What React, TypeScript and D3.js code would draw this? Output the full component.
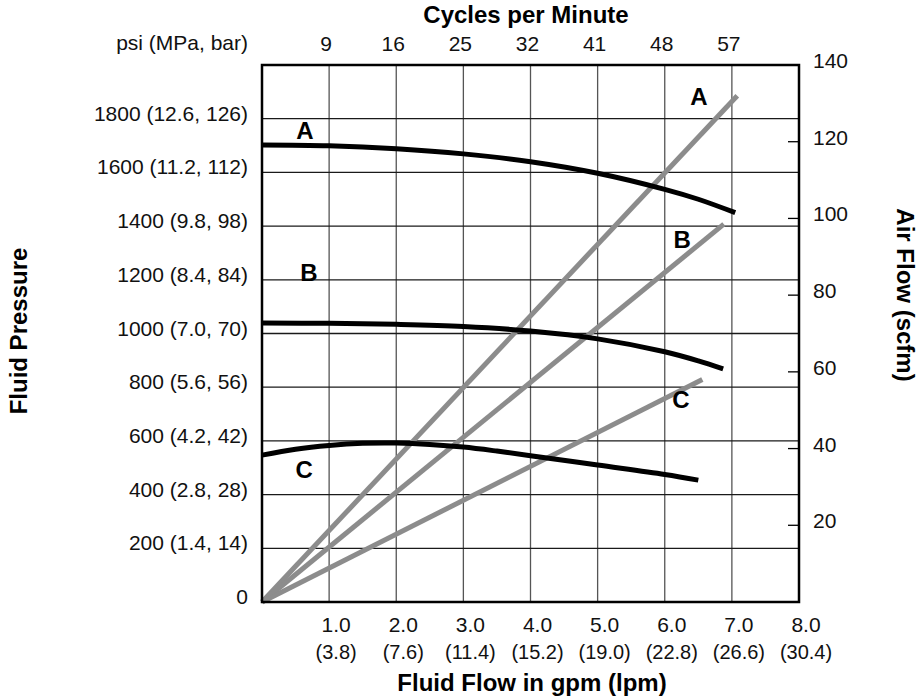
import React from "react";
import * as d3 from "d3";

// ---- data ----
const flowTicks = [1, 2, 3, 4, 5, 6, 7, 8];
const flowLabels = ["1.0", "2.0", "3.0", "4.0", "5.0", "6.0", "7.0", "8.0"];
const lpmLabels = ["(3.8)", "(7.6)", "(11.4)", "(15.2)", "(19.0)", "(22.8)", "(26.6)", "(30.4)"];
const cycleTicks = [1, 2, 3, 4, 5, 6, 7];
const cycleLabels = ["9", "16", "25", "32", "41", "48", "57"];
const pressureTicks = [0, 200, 400, 600, 800, 1000, 1200, 1400, 1600, 1800];
const pressureLabels = [
  "0", "200 (1.4, 14)", "400 (2.8, 28)", "600 (4.2, 42)", "800 (5.6, 56)",
  "1000 (7.0, 70)", "1200 (8.4, 84)", "1400 (9.8, 98)", "1600 (11.2, 112)", "1800 (12.6, 126)",
];
const airTicks = [20, 40, 60, 80, 100, 120, 140];
const airTickLabels = ["20", "40", "60", "80", "100", "120", "140"];

// Fluid pressure curves (psi vs gpm)
const pressureA: [number, number][] = [
  [0, 1702], [1, 1699], [2, 1688], [3, 1669], [4, 1640], [5, 1597], [6, 1537], [6.5, 1500], [7.05, 1450],
];
const pressureB: [number, number][] = [
  [0, 1039], [1, 1038], [2, 1034], [3, 1026], [4, 1009], [5, 980], [6, 932], [6.5, 898], [6.87, 868],
];
const pressureC: [number, number][] = [
  [0, 547], [0.5, 569], [1, 583], [1.5, 591], [2, 592], [2.5, 587], [3, 577], [3.5, 562], [4, 545], [5, 510], [6, 475], [6.5, 454],
];
// Air flow lines (scfm vs gpm)
const airA: [number, number][] = [[0, 0], [7.08, 132]];
const airB: [number, number][] = [[0, 0], [6.88, 98.5]];
const airC: [number, number][] = [[0, 0], [6.56, 58]];

// Curve labels: [gpm, value]
const pressureLabelNames = ["A", "B", "C"];
const pressureLabelPos: [number, number][] = [[0.64, 1724], [0.7, 1195], [0.63, 462]];
const airLabelNames = ["A", "B", "C"];
const airLabelPos: [number, number][] = [[6.51, 129.6], [6.26, 92.3], [6.24, 50.6]];

const FONT = "'Liberation Sans', Arial, Helvetica, sans-serif";

export default function App() {
  const W = 924, H = 700;
  const left = 262, right = 799, top = 65, bottom = 602;
  const x = d3.scaleLinear().domain([0, 8]).range([left, right]);
  const yP = d3.scaleLinear().domain([0, 2000]).range([bottom, top]);
  const yA = d3.scaleLinear().domain([0, 140]).range([bottom, top]);

  const pLine = d3.line<[number, number]>().x((d) => x(d[0])).y((d) => yP(d[1])).curve(d3.curveCatmullRom.alpha(0.5));
  const aLine = d3.line<[number, number]>().x((d) => x(d[0])).y((d) => yA(d[1]));

  return (
    <svg width={W} height={H} style={{ position: "absolute", left: 0, top: 0, background: "#fff" }} fontFamily={FONT}>
      <rect x={0} y={0} width={W} height={H} fill="#fff" />
      {/* vertical gridlines */}
      {flowTicks.slice(0, 7).map((t) => (
        <line key={"vg" + t} x1={x(t)} x2={x(t)} y1={top} y2={bottom} stroke="#555" strokeWidth={1.3} />
      ))}
      {/* horizontal gridlines */}
      {pressureTicks.slice(1).map((t) => (
        <line key={"hg" + t} x1={left} x2={right} y1={yP(t)} y2={yP(t)} stroke="#1a1a1a" strokeWidth={1.3} />
      ))}
      {/* right ticks */}
      {airTicks.slice(0, 6).map((t) => (
        <line key={"rt" + t} x1={right - 11} x2={right} y1={yA(t)} y2={yA(t)} stroke="#000" strokeWidth={1.3} />
      ))}
      {/* air flow lines */}
      {[airA, airB, airC].map((d, i) => (
        <path key={"air" + i} d={aLine(d) || ""} fill="none" stroke="#8c8c8c" strokeWidth={5} />
      ))}
      {/* pressure curves */}
      {[pressureA, pressureB, pressureC].map((d, i) => (
        <path key={"pr" + i} d={pLine(d) || ""} fill="none" stroke="#000" strokeWidth={5} />
      ))}
      {/* border */}
      <rect x={left} y={top} width={right - left} height={bottom - top} fill="none" stroke="#000" strokeWidth={2.5} />

      {/* curve labels */}
      {pressureLabelNames.map((n, i) => (
        <text key={"pl" + i} x={x(pressureLabelPos[i][0])} y={yP(pressureLabelPos[i][1])} textAnchor="middle" fontSize={24} fontWeight="bold">{n}</text>
      ))}
      {airLabelNames.map((n, i) => (
        <text key={"al" + i} x={x(airLabelPos[i][0])} y={yA(airLabelPos[i][1])} textAnchor="middle" fontSize={24} fontWeight="bold">{n}</text>
      ))}

      {/* left axis labels */}
      {pressureTicks.map((t, i) => (
        <text key={"ly" + t} x={248} y={yP(t) + 2} textAnchor="end" fontSize={21} fill="#111">{pressureLabels[i]}</text>
      ))}
      <text x={248} y={50} textAnchor="end" fontSize={21} fill="#111">psi (MPa, bar)</text>

      {/* right axis labels */}
      {airTicks.map((t, i) => (
        <text key={"ry" + t} x={813} y={yA(t) + 3} textAnchor="start" fontSize={21} fill="#111">{airTickLabels[i]}</text>
      ))}

      {/* bottom labels */}
      {flowTicks.map((t, i) => (
        <g key={"bx" + t}>
          <text x={x(t) + 7} y={632} textAnchor="middle" fontSize={21} fill="#111">{flowLabels[i]}</text>
          <text x={x(t) + 7} y={659} textAnchor="middle" fontSize={20} fill="#111">{lpmLabels[i]}</text>
        </g>
      ))}

      {/* top labels */}
      {cycleTicks.map((t, i) => (
        <text key={"tx" + t} x={x(t) - 3} y={51} textAnchor="middle" fontSize={21} fill="#111">{cycleLabels[i]}</text>
      ))}

      {/* titles */}
      <text x={526} y={23} textAnchor="middle" fontSize={24} fontWeight="bold">Cycles per Minute</text>
      <text x={532} y={691} textAnchor="middle" fontSize={24} fontWeight="bold">Fluid Flow in gpm (lpm)</text>
      <text transform="translate(27,331) rotate(-90)" textAnchor="middle" fontSize={24} fontWeight="bold">Fluid Pressure</text>
      <text transform="translate(897,295) rotate(90)" textAnchor="middle" fontSize={24} fontWeight="bold">Air Flow (scfm)</text>
    </svg>
  );
}
